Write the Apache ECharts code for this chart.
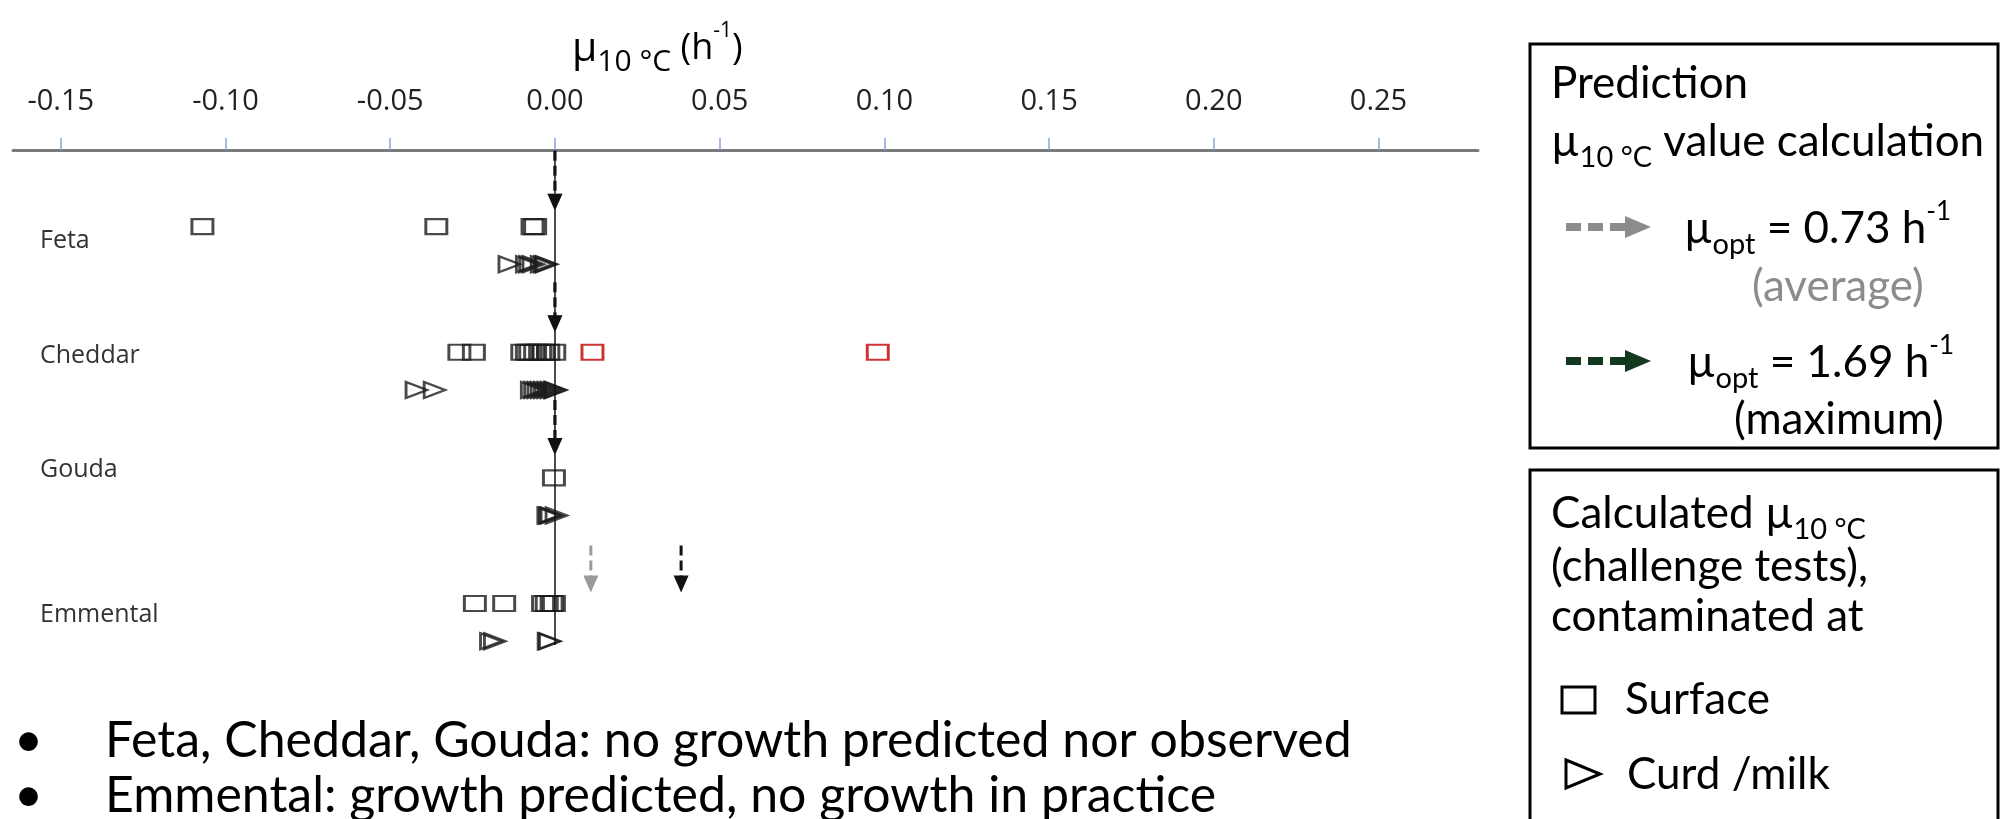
<!DOCTYPE html>
<html><head><meta charset="utf-8">
<script src="https://cdn.jsdelivr.net/npm/echarts@6/dist/echarts.min.js"></script>
<style>html,body{margin:0;padding:0;background:#fff}#c{width:2004px;height:819px}</style>
</head><body><div id="c"></div>
<script>
// ---------- data ----------
const cheeses = ['Feta', 'Cheddar', 'Gouda', 'Emmental'];
const xTicks = [-0.15, -0.10, -0.05, 0.00, 0.05, 0.10, 0.15, 0.20, 0.25];

const surfaceFeta = [-0.107, -0.036, -0.0068, -0.006];
const surfaceCheddar = [-0.029, -0.0246, -0.0099, -0.0085, -0.0075, -0.006, -0.0045, -0.0035, -0.002, -0.0002];
const surfaceCheddarRed = [0.0114, 0.098];
const surfaceGouda = [-0.0003];
const surfaceEmmental = [-0.0243, -0.0154, -0.0036, -0.0025, -0.001, -0.0003];

const curdFeta = [-0.0138, -0.0085, -0.0075, -0.0065, -0.004, -0.003, -0.0025];
const curdCheddar = [-0.042, -0.0365, -0.007, -0.006, -0.005, -0.004, -0.003, -0.002, -0.001, 0.0, 0.0003];
const curdGouda = [-0.002, -0.0015, -0.001, 0.0005];
const curdEmmental = [-0.0194, -0.0182, -0.0019, -0.0015];

const predAverage = [0, 0, 0, 0.0109];   // mu_opt = 0.73 h-1
const predMaximum = [0, 0, 0, 0.0383];   // mu_opt = 1.69 h-1

// ---------- layout ----------
const TRI_SHIFT = 0.3;
const labelShift = [0.11, 0.03, -0.06, 0.09];
const arrowTopPx = [76, 70, 78, 58];
const arrowTipPx = [16, 20, 23, 11];

const surface = [surfaceFeta, surfaceCheddar, surfaceGouda, surfaceEmmental];
const curd = [curdFeta, curdCheddar, curdGouda, curdEmmental];
const red = [[], surfaceCheddarRed, [], []];

function pts(groups, shift) {
  const out = [];
  groups.forEach((g, i) => g.forEach(v => out.push([v, i + shift])));
  return out;
}

function arrowSeries(values, color) {
  return {
    type: 'custom', silent: true, z: 5,
    data: values.map((v, i) => [v, i]),
    renderItem: function (params, api) {
      const i = api.value(1);
      const p = api.coord([api.value(0), i]);
      const top = p[1] - arrowTopPx[i];
      const tip = p[1] - arrowTipPx[i];
      return {
        type: 'group', children: [
          { type: 'line', shape: { x1: p[0], y1: top, x2: p[0], y2: tip - 12 },
            style: { stroke: color, lineWidth: 3, lineDash: [10, 5] } },
          { type: 'polygon', shape: { points: [[p[0] - 7.5, tip - 17], [p[0] + 7.5, tip - 17], [p[0], tip]] },
            style: { fill: color } }
        ]
      };
    }
  };
}

const chart = echarts.init(document.getElementById('c'), null, { renderer: 'canvas', width: 2004, height: 819 });

const sym = { color: 'rgba(0,0,0,0)', borderColor: '#1b1b1b', borderWidth: 2.5 };

const LEG = 44;
function rich(base, color) {
  return {
    n: { fontSize: base, fontFamily: 'Lato', color: color, lineHeight: 60, verticalAlign: 'middle' },
    sub: { fontSize: Math.round(base * 0.66), fontFamily: 'Lato', color: color, lineHeight: 26, verticalAlign: 'bottom' },
    sup: { fontSize: Math.round(base * 0.6), fontFamily: 'Lato', color: color, lineHeight: 36, verticalAlign: 'top' }
  };
}
function legArrow(x1, x2, y, color) {
  return [
    { type: 'line', shape: { x1: x1, y1: y, x2: x2 - 20, y2: y }, style: { stroke: color, lineWidth: 8, lineDash: [15, 7] } },
    { type: 'polygon', shape: { points: [[x2 - 26, y - 11], [x2, y], [x2 - 26, y + 11]] }, style: { fill: color } }
  ];
}
function txt(x, y, s, color, size) {
  return { type: 'text', x: x, y: y, style: { text: s, fontSize: size || LEG, fontFamily: 'Lato', fill: color || '#000', verticalAlign: 'middle', align: 'left' } };
}

const graphics = [
  // chart title
  { type: 'text', x: 572, y: 49, style: {
      text: '{m|µ}{sub|10 °C}{n| (h}{sup|-1}{n|)}', verticalAlign: 'middle', align: 'left',
      rich: {
        m: { fontSize: 41, fontFamily: 'Open Sans', color: '#222', lineHeight: 56, verticalAlign: 'middle' },
        n: { fontSize: 36, fontFamily: 'Open Sans', color: '#222', lineHeight: 56, verticalAlign: 'middle' },
        sub: { fontSize: 30, fontFamily: 'Open Sans', color: '#222', lineHeight: 27, verticalAlign: 'bottom' },
        sup: { fontSize: 21, fontFamily: 'Open Sans', color: '#222', lineHeight: 36, verticalAlign: 'top' }
      } } },
  // legend box 1
  { type: 'rect', shape: { x: 1530, y: 44, width: 468, height: 404 }, style: { fill: 'rgba(0,0,0,0)', stroke: '#000', lineWidth: 3 } },
  txt(1551, 84, 'Prediction'),
  { type: 'text', x: 1551, y: 142, style: { text: '{n|µ}{sub|10 °C}{n| value calculation}', verticalAlign: 'middle', rich: rich(LEG, '#000') } },
  ...legArrow(1566, 1651, 227, '#8c8c8c'),
  { type: 'text', x: 1684, y: 229, style: { text: '{n|µ}{sub|opt}{n| = 0.73 h}{sup|-1}', verticalAlign: 'middle', rich: rich(LEG, '#8c8c8c') } },
  txt(1752, 287, '(average)', '#8c8c8c'),
  ...legArrow(1566, 1651, 361, '#12391f'),
  { type: 'text', x: 1687, y: 363, style: { text: '{n|µ}{sub|opt}{n| = 1.69 h}{sup|-1}', verticalAlign: 'middle', rich: rich(LEG, '#000') } },
  txt(1734, 420, '(maximum)'),
  // legend box 2
  { type: 'rect', shape: { x: 1530, y: 470, width: 468, height: 370 }, style: { fill: 'rgba(0,0,0,0)', stroke: '#000', lineWidth: 3 } },
  { type: 'text', x: 1551, y: 514, style: { text: '{n|Calculated µ}{sub|10 °C}', verticalAlign: 'middle', rich: rich(LEG, '#000') } },
  txt(1551, 567, '(challenge tests),'),
  txt(1551, 617, 'contaminated at'),
  { type: 'rect', shape: { x: 1562, y: 687, width: 33, height: 26 }, style: { fill: 'rgba(0,0,0,0)', stroke: '#000', lineWidth: 3 } },
  txt(1625, 700, 'Surface'),
  { type: 'polygon', shape: { points: [[1566, 760], [1600, 774], [1566, 788]] }, style: { fill: 'rgba(0,0,0,0)', stroke: '#000', lineWidth: 3 } },
  txt(1627, 775, 'Curd /milk'),
  // bullets
  txt(14, 741, '•', '#000', 50),
  txt(105, 741, 'Feta, Cheddar, Gouda: no growth predicted nor observed', '#000', 50),
  txt(14, 796, '•', '#000', 50),
  txt(105, 796, 'Emmental: growth predicted, no growth in practice', '#000', 50)
];

const XMIN = -0.1645, XMAX = 0.2802;

chart.setOption({
  animation: false,
  backgroundColor: '#fff',
  grid: { left: 13, right: 526, top: 150, bottom: 174, containLabel: false },
  xAxis: {
    type: 'value', position: 'top', min: XMIN, max: XMAX,
    axisLine: { show: true, onZero: false, lineStyle: { color: '#7a7a7a', width: 3 } },
    axisTick: { show: true, length: 12, customValues: xTicks, lineStyle: { color: '#86a5dd', width: 1.5 } },
    axisLabel: { customValues: xTicks, formatter: v => v.toFixed(2), fontSize: 29, margin: 34, color: '#222', fontFamily: 'Open Sans' },
    splitLine: { show: false }
  },
  yAxis: {
    type: 'value', inverse: true, min: -0.61, max: 3.33,
    axisLine: { show: false }, axisTick: { show: false }, splitLine: { show: false },
    axisLabel: {
      inside: true, align: 'left', margin: 27, fontSize: 25, color: '#333', fontFamily: 'Open Sans',
      customValues: cheeses.map((c, i) => i + labelShift[i]),
      formatter: v => cheeses[Math.round(v)]
    }
  },
  graphic: graphics,
  series: [
    { type: 'scatter', name: 'Surface', silent: true, symbol: 'rect', symbolSize: [21, 15],
      itemStyle: sym, data: pts(surface, 0), z: 3,
      markLine: { silent: true, symbol: 'none', label: { show: false },
        lineStyle: { color: '#111', width: 1.5, type: 'solid' }, data: [{ xAxis: 0 }] } },
    { type: 'scatter', name: 'Surface (red)', silent: true, symbol: 'rect', symbolSize: [21, 15],
      itemStyle: { color: 'rgba(0,0,0,0)', borderColor: '#c00000', borderWidth: 2.5 }, data: pts(red, 0), z: 3 },
    { type: 'scatter', name: 'Curd /milk', silent: true, symbol: 'path://M0,0L20,8L0,16Z', symbolSize: [21, 16],
      itemStyle: sym, data: pts(curd, TRI_SHIFT), z: 3 },
    arrowSeries(predAverage, '#9a9a9a'),
    arrowSeries(predMaximum, '#111')
  ]
});
</script>
</body></html>
